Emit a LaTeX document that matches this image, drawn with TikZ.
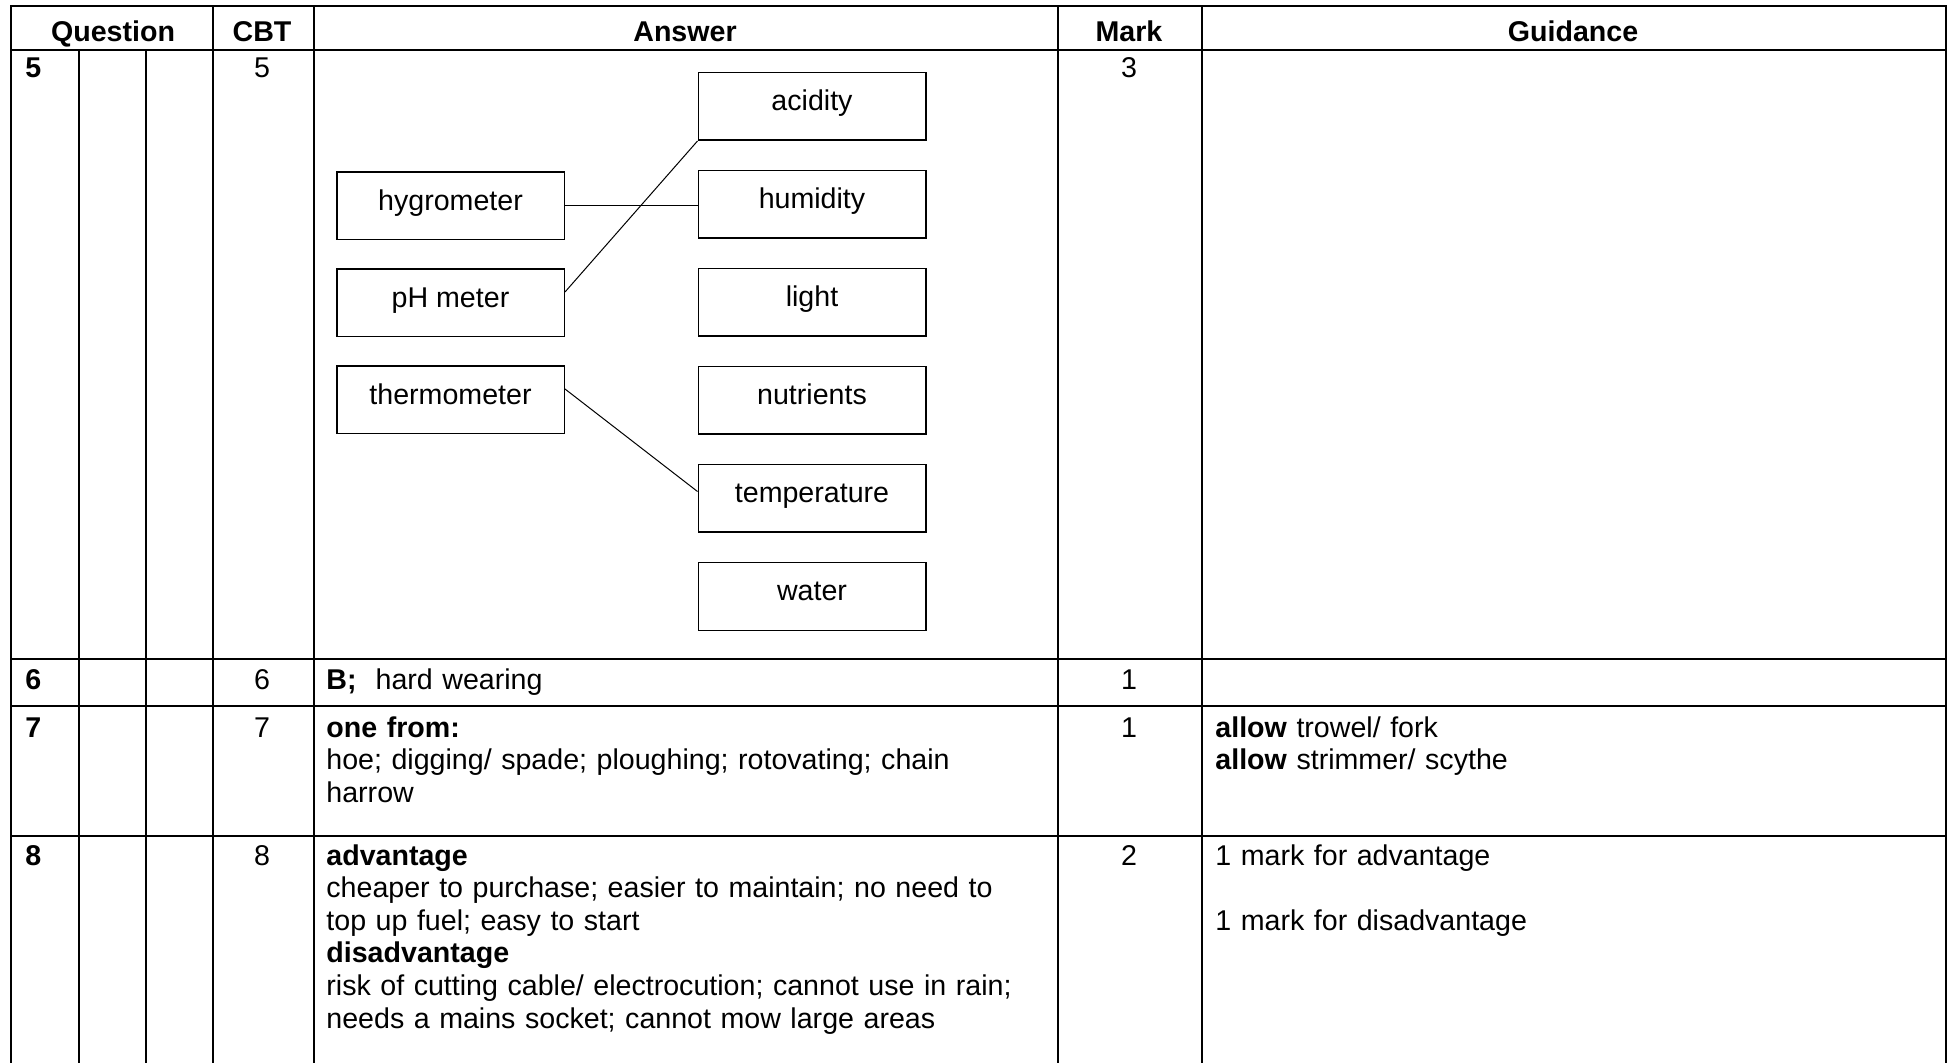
\documentclass[tikz,border=0pt]{standalone}
\usepackage{fontspec}
\setmainfont{Liberation Sans}
\usetikzlibrary{positioning}
\newcommand{\tabsize}{\fontsize{14.3}{16.3}\selectfont}
\tikzset{
  rule/.style={line width=1pt, line cap=rect},
  word box/.style={draw, line width=0.75pt, minimum width=113.75pt, minimum height=33.75pt,
    text height=0.73em, text depth=0.3em, inner sep=0pt, font=\tabsize},
  link/.style={line width=0.5pt},
  head/.style={anchor=base, inner sep=0pt, font=\tabsize\bfseries},
  cell/.style={anchor=base west, inner sep=0pt, align=left, text width=365pt, font=\tabsize},
  num/.style={anchor=base, inner sep=0pt, font=\tabsize},
  qnum/.style={anchor=base west, inner sep=0pt, font=\tabsize\bfseries}
}
\begin{document}
\begin{tikzpicture}[x=0.5pt, y=-0.5pt, node distance=49pt]
  \useasboundingbox (0,0) rectangle (1948,1063);

  % table rules
  \draw[rule] (11,6) -- (1946,6);
  \foreach \y in {50,659,706,836}
    \draw[rule] (11,\y) -- (1946,\y);
  \foreach \x in {11,213,314,1058,1202,1946}
    \draw[rule] (\x,6) -- (\x,1063);
  \foreach \x in {79,146}
    \draw[rule] (\x,50) -- (\x,1063);

  % header
  \node[head] (hq) at (113,42) {Question};
  \node[head] (hc) at (262,42) {CBT};
  \node[head] (ha) at (685,42) {Answer};
  \node[head] (hm) at (1129,42) {Mark};
  \node[head] (hg) at (1573,42) {Guidance};

  % question 5
  \node[qnum] (q5) at (25,78) {5};
  \node[num] (c5) at (262,78) {5};
  \node[num] (m5) at (1129,78) {3};

  \node[word box] (acid) at (812,106.5) {acidity};
  \node[word box] (humid) [below of=acid] {humidity};
  \node[word box] (light) [below of=humid] {light};
  \node[word box] (nutri) [below of=light] {nutrients};
  \node[word box] (temp) [below of=nutri] {temperature};
  \node[word box] (water) [below of=temp] {water};

  \begin{scope}[node distance=48.5pt]
    \node[word box] (hygro) at (450.5,206) {hygrometer};
    \node[word box] (ph) [below of=hygro] {pH meter};
    \node[word box] (thermo) [below of=ph] {thermometer};
  \end{scope}

  \draw[link] (hygro.east) -- (hygro.east -| humid.west);
  \draw[link] ([yshift=5.5pt]ph.east) -- (acid.south west);
  \draw[link] ([yshift=5.5pt]thermo.east) -- ([yshift=3.5pt]temp.west);

  % question 6
  \node[qnum] (q6) at (25,689) {6};
  \node[num] (c6) at (262,689) {6};
  \node[cell] (a6) at (326,689) {\textbf{B;}~~hard wearing};
  \node[num] (m6) at (1129,689) {1};

  % question 7
  \node[qnum] (q7) at (25,737) {7};
  \node[num] (c7) at (262,737) {7};
  \node[cell] (a7) at (326,737) {\textbf{one from:}\\
    hoe; digging/ spade; ploughing; rotovating; chain\\
    harrow};
  \node[num] (m7) at (1129,737) {1};
  \node[cell] (g7) at (1215,737) {\textbf{allow} trowel/ fork\\
    \textbf{allow} strimmer/ scythe};

  % question 8
  \node[qnum] (q8) at (25,865) {8};
  \node[num] (c8) at (262,865) {8};
  \node[cell] (a8) at (326,865) {\textbf{advantage}\\
    cheaper to purchase; easier to maintain; no need to\\
    top up fuel; easy to start\\
    \textbf{disadvantage}\\
    risk of cutting cable/ electrocution; cannot use in rain;\\
    needs a mains socket; cannot mow large areas};
  \node[num] (m8) at (1129,865) {2};
  \node[cell] (g8) at (1215,865) {1 mark for advantage\\[16.3pt]
    1 mark for disadvantage};
\end{tikzpicture}
\end{document}
